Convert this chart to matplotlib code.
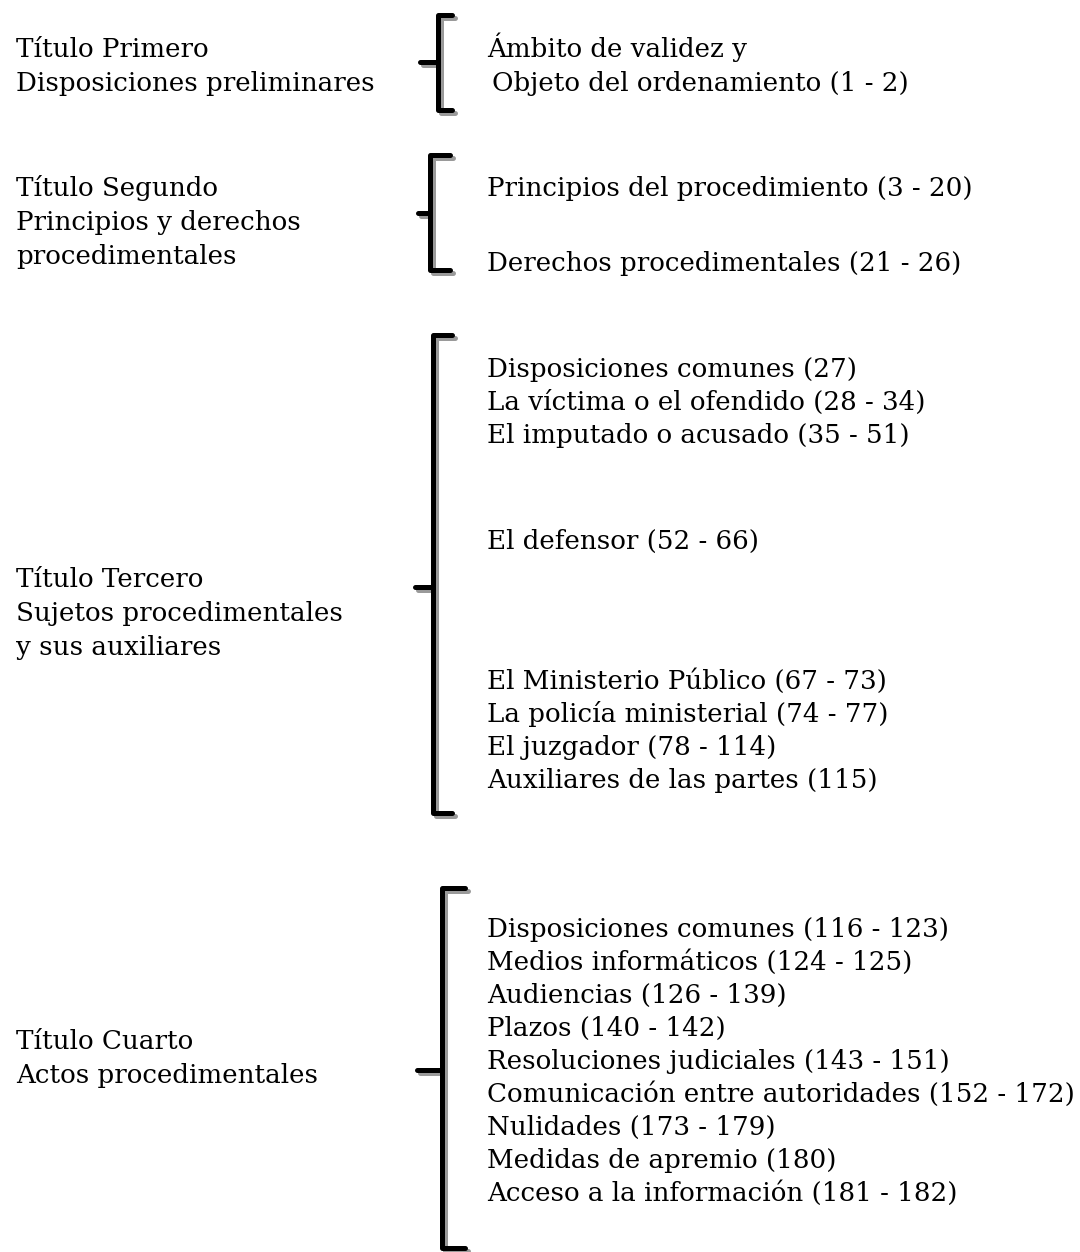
import matplotlib.pyplot as plt

# left column: title of each part
titles = [
    ["Título Primero", "Disposiciones preliminares"],
    ["Título Segundo", "Principios y derechos", "procedimentales"],
    ["Título Tercero", "Sujetos procedimentales", "y sus auxiliares"],
    ["Título Cuarto", "Actos procedimentales"],
]

# right column: chapters (article ranges)
chapters = [
    ["Ámbito de validez y", "Objeto del ordenamiento (1 - 2)"],
    ["Principios del procedimiento (3 - 20)", "Derechos procedimentales (21 - 26)"],
    ["Disposiciones comunes (27)", "La víctima o el ofendido (28 - 34)",
     "El imputado o acusado (35 - 51)", "El defensor (52 - 66)",
     "El Ministerio Público (67 - 73)", "La policía ministerial (74 - 77)",
     "El juzgador (78 - 114)", "Auxiliares de las partes (115)"],
    ["Disposiciones comunes (116 - 123)", "Medios informáticos (124 - 125)",
     "Audiencias (126 - 139)", "Plazos (140 - 142)",
     "Resoluciones judiciales (143 - 151)",
     "Comunicación entre autoridades (152 - 172)", "Nulidades (173 - 179)",
     "Medidas de apremio (180)", "Acceso a la información (181 - 182)"],
]

# layout (pixels, top-down, centre of each text line)
title_y = [[48, 82], [187, 221, 255], [578, 612, 646], [1040, 1074]]
chapter_y = [
    [48, 82],
    [187, 262],
    [368, 401, 434, 540, 680, 713, 746, 779],
    [928, 961, 994, 1027, 1060, 1093, 1126, 1159, 1192],
]
chapter_x = [[487, 492], [487, 487], [487] * 8, [487] * 9]
# brace: x, top, bottom, middle, right tip, left tip
braces = [
    (438, 15, 110, 62, 452, 420),
    (430, 155, 270, 213, 450, 418),
    (433, 335, 813, 587, 452, 415),
    (442, 888, 1248, 1070, 465, 417),
]

W, H = 1080, 1252
fig = plt.figure(figsize=(W / 100, H / 100), dpi=100)
ax = fig.add_axes([0, 0, 1, 1])
ax.set_xlim(0, W)
ax.set_ylim(H, 0)
ax.axis("off")

font = dict(family="DejaVu Serif", fontsize=18.8, color="black", va="baseline")
base = 9  # baseline sits below the line centre

for lines, ys in zip(titles, title_y):
    for s, y in zip(lines, ys):
        ax.text(16, y + base, s, **font)

for lines, ys, xs in zip(chapters, chapter_y, chapter_x):
    for s, y, x in zip(lines, ys, xs):
        ax.text(x, y + base, s, **font)


def draw_brace(x, top, bottom, mid, right, left, dx=0, dy=0, color="black", z=2):
    kw = dict(color=color, lw=3.6, solid_capstyle="round", solid_joinstyle="round", zorder=z)
    ax.plot([right + dx, x + dx, x + dx, right + dx],
            [top + dy, top + dy, bottom + dy, bottom + dy], **kw)
    ax.plot([x + dx, left + dx], [mid + dy, mid + dy], **kw)


for b in braces:
    draw_brace(*b, dx=3, dy=3, color="#9a9a9a", z=1)
    draw_brace(*b)

fig.savefig("out.png", dpi=100, facecolor="white")
